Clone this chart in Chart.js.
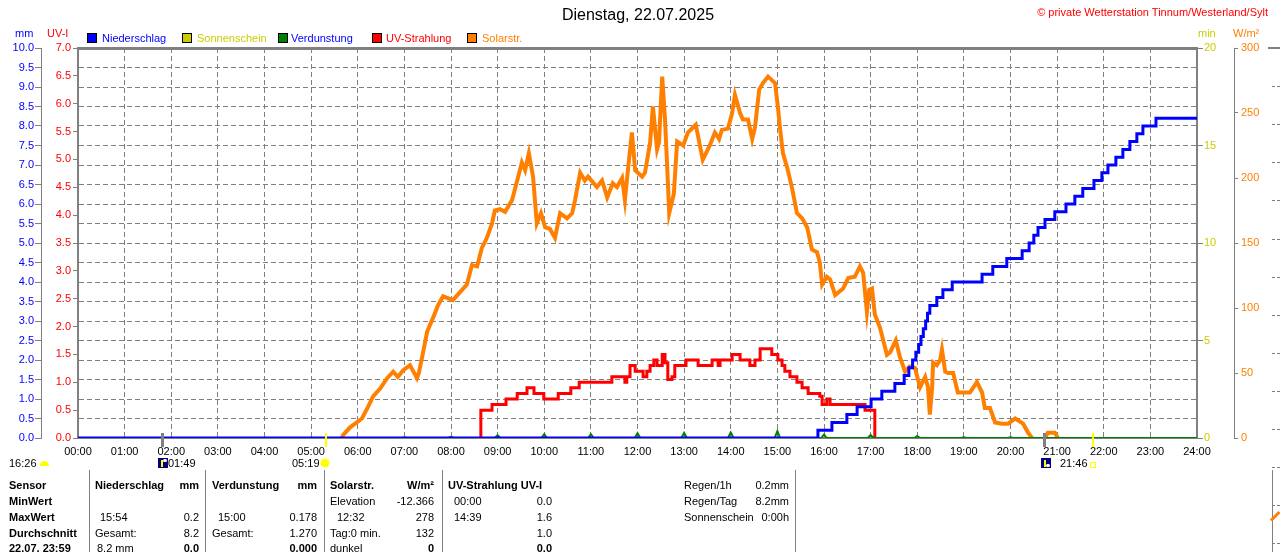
<!DOCTYPE html>
<html>
<head>
<meta charset="utf-8">
<title>Dienstag, 22.07.2025</title>
<script src="https://cdn.jsdelivr.net/npm/chart.js@4.4.1/dist/chart.umd.min.js"></script>
<style>
  html, body { margin:0; padding:0; background:#ffffff; }
  body { position:relative; width:1280px; height:552px; overflow:hidden; font-family:"Liberation Sans", Arial, sans-serif; font-size:11px; color:#000; }
  #chart { position:absolute; left:0; top:0; }
  .t { position:absolute; white-space:nowrap; line-height:14px; }
  .b { font-weight:bold; }
  .sq { position:absolute; width:8px; height:8px; border:1px solid #000; top:33px; }
  .sep { position:absolute; width:1px; background:#808080; top:470px; height:82px; }
  .dash { position:absolute; left:1272px; width:8px; height:0; border-top:1px dashed #808080; }
  .navy { position:absolute; width:10px; height:10px; background:#000080; top:458px; }
  .navy i { position:absolute; left:3px; top:2px; width:2px; height:7px; background:#ffff00; }
  .navy u { position:absolute; left:5px; top:1px; width:4px; height:3px; background:#ffffff; border-radius:2px; }
</style>
</head>
<body>
<canvas id="chart" width="1280" height="552"></canvas>

<!-- title and header -->
<div class="t" style="left:438px;width:400px;text-align:center;top:5px;font-size:16px;line-height:20px;">Dienstag, 22.07.2025</div>
<div class="t" style="right:12px;top:5px;color:#ff0000;">© private Wetterstation Tinnum/Westerland/Sylt</div>

<!-- axis unit labels -->
<div class="t" style="left:15px;top:26px;color:#0000ff;">mm</div>
<div class="t" style="left:47px;top:26px;color:#ff0000;">UV-I</div>
<div class="t" style="left:1198px;top:26px;color:#cccc00;">min</div>
<div class="t" style="left:1233px;top:26px;color:#ff8000;">W/m²</div>

<!-- legend -->
<div class="sq" style="left:87px;background:#0000ff;"></div>
<div class="t" style="left:102px;top:31px;color:#0000ff;">Niederschlag</div>
<div class="sq" style="left:182px;background:#cccc00;"></div>
<div class="t" style="left:197px;top:31px;color:#cccc00;">Sonnenschein</div>
<div class="sq" style="left:278px;background:#008000;"></div>
<div class="t" style="left:291px;top:31px;color:#0000ff;">Verdunstung</div>
<div class="sq" style="left:372px;background:#ff0000;"></div>
<div class="t" style="left:386px;top:31px;color:#ff0000;">UV-Strahlung</div>
<div class="sq" style="left:467px;background:#ff8000;"></div>
<div class="t" style="left:482px;top:31px;color:#ff8000;">Solarstr.</div>

<!-- sun / moon row -->
<div class="t" style="left:9px;top:456px;">16:26</div>
<div style="position:absolute;left:40px;top:461px;width:9px;height:5px;background:#ffff00;border-radius:5px 5px 0 0;"></div>
<div class="navy" style="left:158px;"><i></i><u></u></div>
<div class="t" style="left:168px;top:456px;">01:49</div>
<div class="t" style="left:292px;top:456px;">05:19</div>
<div style="position:absolute;left:321px;top:459px;width:8px;height:8px;background:#ffff00;border-radius:50%;box-shadow:0 0 0 1px #ffff99;"></div>
<div class="navy" style="left:1041px;"><i></i><u style="top:6px;"></u></div>
<div class="t" style="left:1060px;top:456px;">21:46</div>
<div style="position:absolute;left:1090px;top:462px;width:4px;height:4px;border:1px solid #ffff00;"></div>

<!-- table separators -->
<div class="sep" style="left:89px;"></div>
<div class="sep" style="left:205px;"></div>
<div class="sep" style="left:324px;"></div>
<div class="sep" style="left:442px;"></div>
<div class="sep" style="left:795px;"></div>
<div class="sep" style="left:1272px;"></div>

<!-- table row 1 -->
<div class="t b" style="left:9px;top:478px;">Sensor</div>
<div class="t b" style="left:95px;top:478px;">Niederschlag</div>
<div class="t b" style="right:1081px;top:478px;">mm</div>
<div class="t b" style="left:212px;top:478px;">Verdunstung</div>
<div class="t b" style="right:963px;top:478px;">mm</div>
<div class="t b" style="left:330px;top:478px;">Solarstr.</div>
<div class="t b" style="right:846px;top:478px;">W/m²</div>
<div class="t b" style="left:448px;top:478px;">UV-Strahlung UV-I</div>
<div class="t" style="left:684px;top:478px;">Regen/1h</div>
<div class="t" style="right:491px;top:478px;">0.2mm</div>
<!-- row 2 -->
<div class="t b" style="left:9px;top:494px;">MinWert</div>
<div class="t" style="left:330px;top:494px;">Elevation</div>
<div class="t" style="right:846px;top:494px;">-12.366</div>
<div class="t" style="left:454px;top:494px;">00:00</div>
<div class="t" style="right:728px;top:494px;">0.0</div>
<div class="t" style="left:684px;top:494px;">Regen/Tag</div>
<div class="t" style="right:491px;top:494px;">8.2mm</div>
<!-- row 3 -->
<div class="t b" style="left:9px;top:510px;">MaxWert</div>
<div class="t" style="left:100px;top:510px;">15:54</div>
<div class="t" style="right:1081px;top:510px;">0.2</div>
<div class="t" style="left:218px;top:510px;">15:00</div>
<div class="t" style="right:963px;top:510px;">0.178</div>
<div class="t" style="left:337px;top:510px;">12:32</div>
<div class="t" style="right:846px;top:510px;">278</div>
<div class="t" style="left:454px;top:510px;">14:39</div>
<div class="t" style="right:728px;top:510px;">1.6</div>
<div class="t" style="left:684px;top:510px;">Sonnenschein</div>
<div class="t" style="right:491px;top:510px;">0:00h</div>
<!-- row 4 -->
<div class="t b" style="left:9px;top:526px;">Durchschnitt</div>
<div class="t" style="left:95px;top:526px;">Gesamt:</div>
<div class="t" style="right:1081px;top:526px;">8.2</div>
<div class="t" style="left:212px;top:526px;">Gesamt:</div>
<div class="t" style="right:963px;top:526px;">1.270</div>
<div class="t" style="left:330px;top:526px;">Tag:0 min.</div>
<div class="t" style="right:846px;top:526px;">132</div>
<div class="t" style="right:728px;top:526px;">1.0</div>
<!-- row 5 -->
<div class="t b" style="left:9px;top:541px;">22.07. 23:59</div>
<div class="t" style="left:97px;top:541px;">8.2 mm</div>
<div class="t b" style="right:1081px;top:541px;">0.0</div>
<div class="t b" style="right:963px;top:541px;">0.000</div>
<div class="t" style="left:330px;top:541px;">dunkel</div>
<div class="t b" style="right:846px;top:541px;">0</div>
<div class="t b" style="right:728px;top:541px;">0.0</div>

<!-- edge of neighbouring panel -->
<div style="position:absolute;left:1268px;top:47px;width:12px;height:2px;background:#808080;"></div>
<div id="edge"></div>
<div style="position:absolute;left:1271px;top:519px;width:12px;height:3px;background:#ff8000;transform:rotate(-45deg);transform-origin:left center;"></div>

<script>
// ---------- data ----------
const hourLabels = ['00:00','01:00','02:00','03:00','04:00','05:00','06:00','07:00','08:00','09:00','10:00','11:00','12:00',
                    '13:00','14:00','15:00','16:00','17:00','18:00','19:00','20:00','21:00','22:00','23:00','24:00'];

// Niederschlag, cumulative mm  [hour, mm]
const rainData = [
  [0,0],[15.87,0.2],[16.17,0.4],[16.49,0.6],[16.71,0.8],[17.01,1.0],[17.24,1.2],[17.52,1.4],[17.72,1.6],
  [17.82,1.8],[17.90,2.0],[17.97,2.2],[18.03,2.4],[18.08,2.6],[18.13,2.8],[18.18,3.0],[18.22,3.2],[18.27,3.4],
  [18.42,3.6],[18.55,3.8],[18.75,4.0],[19.39,4.2],[19.62,4.4],[19.92,4.6],[20.25,4.8],[20.40,5.0],[20.50,5.2],
  [20.59,5.4],[20.74,5.6],[20.95,5.8],[21.19,6.0],[21.38,6.2],[21.55,6.4],[21.79,6.6],[21.96,6.8],[22.09,7.0],
  [22.26,7.2],[22.41,7.4],[22.56,7.6],[22.71,7.8],[22.84,8.0],[23.12,8.2],[24,8.2]
];

// Verdunstung, hourly mm  [hour, mm]
const evapData = [
  [7,0.01],[8,0.03],[9,0.07],[10,0.10],[11,0.10],[12,0.12],[13,0.13],[14,0.14],[15,0.178],
  [16,0.09],[17,0.08],[18,0.05],[19,0.02],[20,0.02]
];

// UV-Strahlung, UV index  [hour, UV-I]
const uvData = [
  [8.63,0],[8.64,0.5],[8.88,0.6],[9.18,0.7],[9.42,0.8],[9.63,0.9],[9.78,0.8],[9.99,0.7],[10.30,0.8],[10.57,0.9],
  [10.75,1.0],[11.45,1.1],[11.73,1.0],[11.77,1.1],[11.84,1.3],[11.95,1.2],[12.12,1.1],[12.20,1.2],[12.27,1.3],
  [12.35,1.4],[12.42,1.3],[12.53,1.5],[12.59,1.35],[12.65,1.05],[12.74,1.1],[12.80,1.3],[13.04,1.4],[13.30,1.3],
  [13.60,1.4],[13.73,1.3],[13.77,1.4],[14.03,1.5],[14.20,1.4],[14.41,1.3],[14.52,1.4],[14.63,1.6],[14.88,1.5],
  [15.01,1.4],[15.10,1.3],[15.16,1.2],[15.27,1.1],[15.42,1.0],[15.53,0.9],[15.66,0.8],[15.91,0.75],[15.96,0.6],
  [16.06,0.7],[16.13,0.6],[16.88,0.5],[17.05,0.5],[17.09,0]
];

// Solarstrahlung, W/m²  [hour, W/m²]
const solarData = [
  [5.66,0],[5.68,2],[5.83,8],[6.09,15],[6.22,24],[6.33,32],[6.48,38],[6.63,46],[6.76,51],[6.86,47],[6.97,52],
  [7.12,56],[7.18,52],[7.27,46],[7.31,50],[7.38,62],[7.49,82],[7.61,92],[7.72,102],[7.83,109],[8.04,106],
  [8.19,112],[8.34,118],[8.45,133],[8.56,132],[8.66,146],[8.77,154],[8.88,165],[8.94,175],[9.05,176],[9.16,174],
  [9.31,183],[9.42,198],[9.52,212],[9.59,206],[9.67,219],[9.76,201],[9.84,165],[9.93,173],[10.02,162],[10.12,161],
  [10.23,154],[10.34,173],[10.49,169],[10.60,173],[10.66,183],[10.77,204],[10.87,198],[10.94,201],[11.13,193],
  [11.24,198],[11.35,185],[11.47,196],[11.56,193],[11.67,200],[11.73,183],[11.80,208],[11.88,235],[11.95,206],
  [12.10,201],[12.16,204],[12.27,227],[12.33,255],[12.42,222],[12.46,227],[12.53,278],[12.59,245],[12.63,214],
  [12.68,173],[12.78,188],[12.85,228],[12.98,225],[13.08,235],[13.25,241],[13.30,232],[13.40,214],[13.55,225],
  [13.66,235],[13.75,230],[13.81,237],[13.94,238],[14.03,250],[14.09,264],[14.20,250],[14.26,245],[14.37,245],
  [14.46,230],[14.52,239],[14.61,268],[14.69,273],[14.80,278],[14.95,273],[15.01,255],[15.06,237],[15.12,219],
  [15.21,208],[15.31,193],[15.42,173],[15.53,169],[15.64,162],[15.74,145],[15.85,143],[15.91,135],[15.96,118],
  [16.06,124],[16.13,122],[16.24,110],[16.41,115],[16.52,123],[16.66,124],[16.77,132],[16.84,127],[16.88,112],
  [16.92,97],[16.97,114],[17.03,115],[17.09,95],[17.20,85],[17.35,64],[17.42,66],[17.54,75],[17.63,62],
  [17.74,51],[17.84,55],[17.95,54],[18.06,39],[18.17,47],[18.23,39],[18.27,18],[18.32,39],[18.34,58],[18.42,56],
  [18.49,60],[18.53,68],[18.60,51],[18.66,50],[18.77,50],[18.87,35],[19.02,35],[19.13,35],[19.28,43],[19.39,35],
  [19.45,23],[19.56,23],[19.67,12],[19.82,11],[19.95,11],[20.10,15],[20.27,11],[20.38,4],[20.44,1],[20.46,0],
  [20.60,null],[20.74,0],[20.80,4],[20.95,4],[21.02,0]
];

// Sun / moon event markers  [hour, colour, width]
const sunMoonEvents = [[1.817,'#808080',3],[5.317,'#ffff00',2],[20.73,'#808080',3],[21.767,'#ffff00',2]];

// ---------- neighbouring panel dashes ----------
(function(){
  const edge = document.getElementById('edge');
  for (let k = 1; k <= 13; k++) {
    const d = document.createElement('div');
    d.className = 'dash';
    d.style.top = (48 + 38.1 * k).toFixed(0) + 'px';
    edge.appendChild(d);
  }
})();

// ---------- chart ----------
const GRID = '#808080';
const DASH = [5, 3];
const fontSpec = { family: "'Liberation Sans', Arial, sans-serif", size: 11 };

const toXY = arr => arr.map(p => ({ x: p[0], y: p[1] }));
const evapPoints = [{ x: 0, y: 0 }];
evapData.forEach(p => {
  evapPoints.push({ x: p[0] - 0.06, y: 0 }, { x: p[0], y: p[1] }, { x: p[0] + 0.06, y: 0 });
});
evapPoints.push({ x: 24, y: 0 });

const eventMarkers = {
  id: 'eventMarkers',
  afterDatasetsDraw(chart) {
    const ctx = chart.ctx, xs = chart.scales.x, area = chart.chartArea;
    ctx.save();
    sunMoonEvents.forEach(e => {
      const px = xs.getPixelForValue(e[0]);
      ctx.fillStyle = e[1];
      ctx.fillRect(Math.round(px - e[2] / 2), area.bottom - 5, e[2], 14);
    });
    ctx.restore();
  }
};

new Chart(document.getElementById('chart'), {
  type: 'line',
  data: {
    datasets: [
      { label: 'Niederschlag', data: toXY(rainData), yAxisID: 'yMM', xAxisID: 'x', borderColor: '#0000ff', backgroundColor: '#0000ff', borderWidth: 3, stepped: true, order: 0 },
      { label: 'Verdunstung', data: evapPoints, yAxisID: 'yMM', xAxisID: 'x', borderColor: '#008000', backgroundColor: '#008000', borderWidth: 2, order: 1 },
      { label: 'UV-Strahlung', data: toXY(uvData), yAxisID: 'yUV', xAxisID: 'x', borderColor: '#ff0000', backgroundColor: '#ff0000', borderWidth: 3, stepped: true, order: 2 },
      { label: 'Solarstr.', data: toXY(solarData), yAxisID: 'yW', xAxisID: 'x', borderColor: '#ff8000', backgroundColor: '#ff8000', borderWidth: 4, spanGaps: false, order: 3 }
    ]
  },
  options: {
    responsive: false,
    animation: false,
    events: [],
    elements: { point: { radius: 0 }, line: { tension: 0, fill: false } },
    plugins: { legend: { display: false }, tooltip: { enabled: false }, title: { display: false } },
    layout: { padding: { top: 48, left: 0, right: 0, bottom: 0 } },
    scales: {
      x: {
        type: 'linear', position: 'bottom', min: 0, max: 24,
        afterFit: s => { s.height = 114; },
        ticks: { stepSize: 1, autoSkip: false, maxRotation: 0, minRotation: 0, color: '#000000', font: fontSpec, padding: 7,
                 callback: v => hourLabels[v] },
        grid: { color: GRID, lineWidth: 1, drawTicks: false },
        border: { display: true, color: GRID, width: 2, dash: DASH }
      },
      xTop: {
        type: 'linear', position: 'top', min: 0, max: 24,
        afterFit: s => { s.height = 0; },
        ticks: { display: false },
        grid: { display: true, drawOnChartArea: false, drawTicks: false },
        border: { display: true, color: GRID, width: 3 }
      },
      yMM: {
        type: 'linear', position: 'left', weight: 2, min: 0, max: 10,
        afterFit: s => { s.width = 41; },
        ticks: { stepSize: 0.5, autoSkip: false, color: '#0000ff', font: fontSpec, padding: 1, callback: v => v.toFixed(1) },
        grid: { color: GRID, lineWidth: 1, drawOnChartArea: true, drawTicks: true, tickLength: 6, tickColor: GRID, tickBorderDash: [] },
        border: { display: true, color: GRID, width: 1, dash: DASH }
      },
      yUV: {
        type: 'linear', position: 'left', weight: 1, min: 0, max: 7,
        afterFit: s => { s.width = 37; },
        ticks: { stepSize: 0.5, autoSkip: false, color: '#ff0000', font: fontSpec, padding: 2, callback: v => v.toFixed(1) },
        grid: { drawOnChartArea: false, drawTicks: true, tickLength: 5, color: GRID, tickColor: GRID },
        border: { display: true, color: GRID, width: 2 }
      },
      yMin: {
        type: 'linear', position: 'right', weight: 1, min: 0, max: 20,
        afterFit: s => { s.width = 37; },
        ticks: { stepSize: 5, autoSkip: false, color: '#cccc00', font: fontSpec, padding: 1 },
        grid: { drawOnChartArea: false, drawTicks: true, tickLength: 6, color: GRID, tickColor: GRID },
        border: { display: true, color: GRID, width: 2 }
      },
      yW: {
        type: 'linear', position: 'right', weight: 2, min: 0, max: 300,
        afterFit: s => { s.width = 46; },
        ticks: { stepSize: 50, autoSkip: false, color: '#ff8000', font: fontSpec, padding: 3 },
        grid: { drawOnChartArea: false, drawTicks: true, tickLength: 4, color: GRID, tickColor: GRID },
        border: { display: true, color: GRID, width: 1 }
      }
    }
  },
  plugins: [eventMarkers]
});
</script>
</body>
</html>
